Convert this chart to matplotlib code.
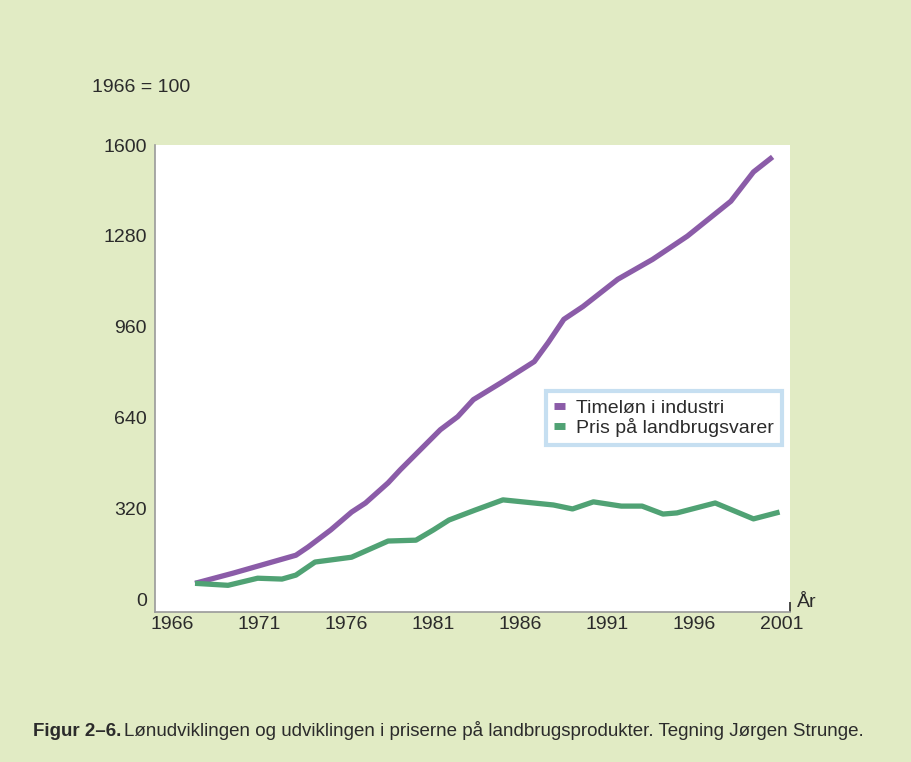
import matplotlib.pyplot as plt

# (year, index 1966 = 100)
wage_years = [1967.3, 1969.5, 1973.1, 1973.8, 1975.1, 1976.3, 1977.1, 1978.4, 1979.1,
              1981.4, 1982.4, 1983.3, 1984.9, 1986.8, 1987.6, 1988.5, 1989.6, 1991.6,
              1993.6, 1995.6, 1998.1, 1999.4, 2000.5]
wage_index = [56, 92, 155, 184, 244, 307, 339, 410, 456,
              597, 643, 703, 763, 837, 904, 986, 1031, 1127,
              1197, 1279, 1402, 1505, 1558]

price_years = [1967.3, 1969.2, 1970.9, 1972.3, 1973.1, 1974.2, 1976.3, 1978.4, 1980.0,
               1981.0, 1981.9, 1983.4, 1985.0, 1987.9, 1989.0, 1990.2, 1991.8, 1993.0,
               1994.2, 1995.0, 1997.2, 1999.4, 2000.9]
price_index = [56, 49, 74, 71, 85, 131, 148, 205, 208,
               244, 279, 314, 350, 332, 318, 343, 328, 328,
               300, 304, 339, 283, 307]

x_ticks = [1966, 1971, 1976, 1981, 1986, 1991, 1996, 2001]
y_ticks = [0, 320, 640, 960, 1280, 1600]

BG = '#e1ebc4'
PURPLE = '#8b5ca8'
GREEN = '#50a274'
TEXT = '#2b2b2b'

plt.rcParams['font.family'] = ['Liberation Sans', 'DejaVu Sans']

fig = plt.figure(figsize=(9.12, 7.62), dpi=100, facecolor=BG)
ax = fig.add_axes([155 / 912, 1 - 612 / 762, 635 / 912, 467 / 762])
ax.set_facecolor('white')

ax.plot(wage_years, wage_index, color=PURPLE, lw=3.8, solid_capstyle='butt',
        solid_joinstyle='round', label='Timeløn i industri')
ax.plot(price_years, price_index, color=GREEN, lw=3.8, solid_capstyle='butt',
        solid_joinstyle='round', label='Pris på landbrugsvarer')

ax.set_xlim(1965.0, 2001.5)
ax.set_ylim(-45, 1600)

for side in ['top', 'right']:
    ax.spines[side].set_visible(False)
for side in ['left', 'bottom']:
    ax.spines[side].set_color('#9a9a9a')
    ax.spines[side].set_linewidth(1.2)

ax.set_xticks(x_ticks)
ax.set_yticks(y_ticks)
ax.tick_params(axis='both', length=0, labelsize=14, labelcolor=TEXT)
ax.tick_params(axis='y', pad=6)
ax.tick_params(axis='x', pad=3)

# the only visible tick marks sit at the two far corners
ax.set_xticks([2001.5], minor=True)
ax.set_yticks([1600], minor=True)
ax.tick_params(which='minor', direction='in', length=7, width=1.2, color=TEXT)

ax.text(2001.9, -12, 'År', fontsize=14, color=TEXT, ha='left', va='center', clip_on=False)
fig.text(92 / 912, 1 - 88 / 762, '1966 = 100', fontsize=14, color=TEXT, ha='left', va='center')

leg = ax.legend(loc='center', bbox_to_anchor=(664 / 912, 1 - 418 / 762),
                bbox_transform=fig.transFigure, frameon=True, fancybox=False,
                fontsize=14, handlelength=0.55, handletextpad=0.6, labelspacing=0.05,
                borderpad=0.4, borderaxespad=0)
leg.get_frame().set_edgecolor('#b8d8ee')
leg.get_frame().set_linewidth(3)
for t in leg.get_texts():
    t.set_color(TEXT)
for h in leg.get_lines():
    h.set_linewidth(5)

fig.text(33 / 912, 1 - 731 / 762, 'Figur 2–6.', fontsize=13.5, fontweight='bold',
         color=TEXT, ha='left', va='center')
fig.text(124 / 912, 1 - 731 / 762,
         'Lønudviklingen og udviklingen i priserne på landbrugsprodukter. Tegning Jørgen Strunge.',
         fontsize=13.5, color=TEXT, ha='left', va='center')

fig.savefig('out.png', dpi=100, facecolor=BG)
